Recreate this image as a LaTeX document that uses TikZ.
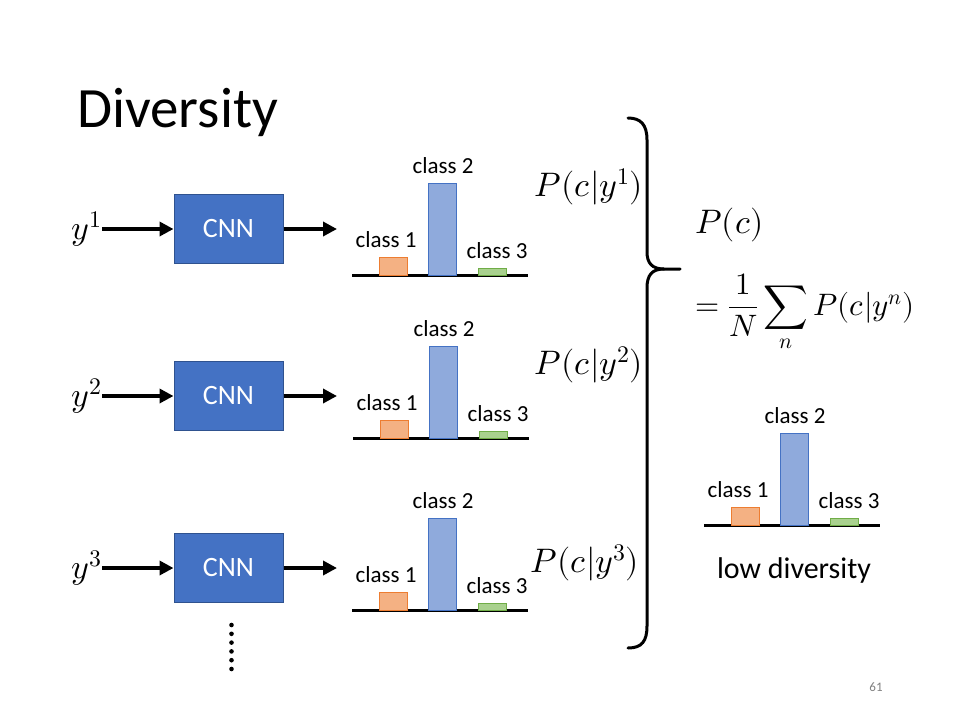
\documentclass[tikz,border=0pt]{standalone}
\usepackage{amsmath}
\usepackage{fontspec}
\usepackage{unicode-math}
\setmainfont{Carlito}
\setmathfont{Latin Modern Math}
\usetikzlibrary{arrows.meta}
\definecolor{cnnblue}{HTML}{4472C4}
\definecolor{cnnedge}{HTML}{2F528F}
\definecolor{orfill}{HTML}{F4B183}
\definecolor{oredge}{HTML}{ED7D31}
\definecolor{blfill}{HTML}{8FAADC}
\definecolor{bledge}{HTML}{4472C4}
\definecolor{grfill}{HTML}{A9D18E}
\definecolor{gredge}{HTML}{70AD47}
\tikzset{
  cnnbox/.style={draw=cnnedge, line width=1pt, fill=cnnblue, minimum width=109pt, minimum height=69pt, inner sep=0pt, text=white, font=\fontsize{28}{30}\selectfont},
  thickarrow/.style={line width=4pt, -{Triangle[length=14pt,width=14pt]}},
  mathlbl/.style={inner sep=0pt, font=\fontsize{34}{36}\selectfont},
  clslbl/.style={inner sep=0pt, font=\fontsize{23}{26}\selectfont},
  baseline/.style={line width=3pt},
  barbox/.style={line width=0.8pt},
}
\newcommand{\mychart}[2]{%
  \begin{scope}[shift={(#1,#2)}]
    \draw[baseline] (0,0) coordinate (b0) -- (176,0) coordinate (b1);
    \draw[barbox, draw=oredge, fill=orfill] (27,0) rectangle (55,-18);
    \draw[barbox, draw=bledge, fill=blfill] (76,0) rectangle (104,-92);
    \draw[barbox, draw=gredge, fill=grfill] (126,0) rectangle (154,-7);
    \node[clslbl] (c1) at (34,-35) {class 1};
    \node[clslbl] (c2) at (91,-109) {class 2};
    \node[clslbl] (c3) at (145,-24) {class 3};
  \end{scope}}
\begin{document}
\begin{tikzpicture}[x=1pt,y=-1pt]
\useasboundingbox (0,0) rectangle (960,720);
\fill[white] (0,0) rectangle (960,720);
% title
\node[anchor=base west, inner sep=0pt, font=\fontsize{57}{60}\selectfont] (title) at (77,127) {Diversity};
% rows
\foreach \r/\yy in {1/229, 2/396, 3/568} {
  \node[cnnbox] (cnn\r) at (228.5,\yy) {CNN};
  \node[mathlbl, anchor=east] (y\r) at (102,\yy) {$y^{\r}$};
  \coordinate (out\r) at (337,\yy);
  \draw[thickarrow] (y\r.east) -- (cnn\r.west);
  \draw[thickarrow] (cnn\r.east) -- (out\r);
}
% charts
\mychart{352}{275}
\mychart{353}{438}
\mychart{352}{610}
\mychart{704}{525}
% probabilities
\node[mathlbl] (p1) at (589,187) {$P(c|y^1)$};
\node[mathlbl] (p2) at (589,365) {$P(c|y^2)$};
\node[mathlbl] (p3) at (585,563) {$P(c|y^3)$};
% brace
\draw[line width=3pt, line cap=round]
  (628,118) .. controls (641,118) and (647,125) .. (647,140) -- (647,252)
  .. controls (647,263) and (652,269) .. (664,269) -- (680,269);
\draw[line width=3pt, line cap=round]
  (664,269) .. controls (652,269) and (647,275) .. (647,288) -- (647,626)
  .. controls (647,641) and (642,648) .. (628,648);
% formula
\node[mathlbl, anchor=west] (pc) at (695,225) {$P(c)$};
\node[inner sep=0pt, font=\fontsize{31}{33}\selectfont, anchor=west] (sum) at (695,313) {$\displaystyle =\frac{1}{N}\sum_{n} P(c|y^{n})$};
% low diversity
\node[inner sep=0pt, font=\fontsize{30}{33}\selectfont] (low) at (794,570) {low diversity};
% dots
\foreach \k in {0,...,5} { \fill (231.5,625+8.8*\k) circle (2.3pt); }
% page number
\node[inner sep=0pt, text=gray, font=\fontsize{13}{15}\selectfont] (pg) at (876,687) {61};
\end{tikzpicture}
\end{document}
